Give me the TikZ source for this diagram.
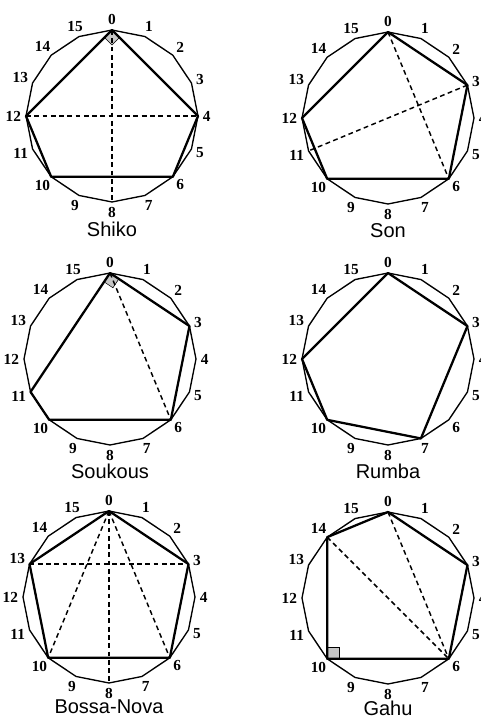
\documentclass[tikz,border=0pt]{standalone}
\usepackage{fontspec}
\setmainfont{Liberation Serif}
\newfontfamily\namefont{Liberation Sans}
\usetikzlibrary{positioning, calc}

\begin{document}
\begin{tikzpicture}[
    x=0.75pt, y=-0.75pt,
    wheel/.style={line width=1pt, line join=miter},
    rhythm/.style={line width=1.7pt, line join=round},
    chord/.style={line width=1.1pt, dash pattern=on 3.6pt off 2.6pt},
    num/.style={font=\fontsize{11.5}{11.5}\selectfont\bfseries, inner sep=0pt},
    rhythmname/.style={font=\fontsize{15}{16}\selectfont\namefont, inner sep=0pt},
    corner/.style={fill=gray!45, draw, line width=0.4pt}
]
    \useasboundingbox (0,0) rectangle (481,717);
    \foreach \nm/\cx/\cy/\ty/\ttl in {shiko/112/116/229/Shiko, son/388/118/231/Son, soukous/110/359/471/Soukous, rumba/388/359/471/Rumba, bossa/109/597/707/Bossa-Nova, gahu/388/598/708/Gahu} {
        \coordinate (\nm) at (\cx,\cy);
        \foreach \i [evaluate=\i as \a using 90-22.5*\i, evaluate=\i as \b using {mod(630-22.5*\i,360)}] in {0,...,15} {
            \coordinate (\nm-\i) at ([shift={(\a:64.5pt)}]\nm);
            \node[num, anchor=\b] (\nm-l\i) at ([shift={(\a:68pt)}]\nm) {\i};
        }
        \draw[wheel] (\nm-0) \foreach \i in {1,...,15} {-- (\nm-\i)} -- cycle;
        \node[rhythmname] (\nm-name) at (\cx,\ty) {\ttl};
    }

    \filldraw[corner] (shiko-0) -- ++(-45:8pt) -- ++(-135:8pt) -- ++(135:8pt) -- cycle;
    \draw[rhythm] (shiko-0) -- (shiko-4) -- (shiko-6) -- (shiko-10) -- (shiko-12) -- cycle;
    \draw[chord] (shiko-0) -- (shiko-8);
    \draw[chord] (shiko-12) -- (shiko-4);

    \draw[rhythm] (son-0) -- (son-3) -- (son-6) -- (son-10) -- (son-12) -- cycle;
    \draw[chord] (son-0) -- (son-6);
    \draw[chord] (son-3) -- (son-11);

    \filldraw[corner] (soukous-0) -- ++(-33.75:8pt) -- ++(-123.75:8pt) -- ++(146.25:8pt) -- cycle;
    \draw[rhythm] (soukous-0) -- (soukous-3) -- (soukous-6) -- (soukous-10) -- (soukous-11) -- cycle;
    \draw[chord] (soukous-0) -- (soukous-6);

    \draw[rhythm] (rumba-0) -- (rumba-3) -- (rumba-7) -- (rumba-10) -- (rumba-12) -- cycle;

    \draw[rhythm] (bossa-0) -- (bossa-3) -- (bossa-6) -- (bossa-10) -- (bossa-13) -- cycle;
    \draw[chord] (bossa-13) -- (bossa-3);
    \draw[chord] (bossa-0) -- (bossa-10);
    \draw[chord] (bossa-0) -- (bossa-8);
    \draw[chord] (bossa-0) -- (bossa-6);

    \filldraw[corner] (gahu-10) -- ++(0:9pt) -- ++(90:9pt) -- ++(180:9pt) -- cycle;
    \draw[rhythm] (gahu-0) -- (gahu-3) -- (gahu-6) -- (gahu-10) -- (gahu-14) -- cycle;
    \draw[chord] (gahu-0) -- (gahu-6);
    \draw[chord] (gahu-14) -- (gahu-6);
\end{tikzpicture}
\end{document}
